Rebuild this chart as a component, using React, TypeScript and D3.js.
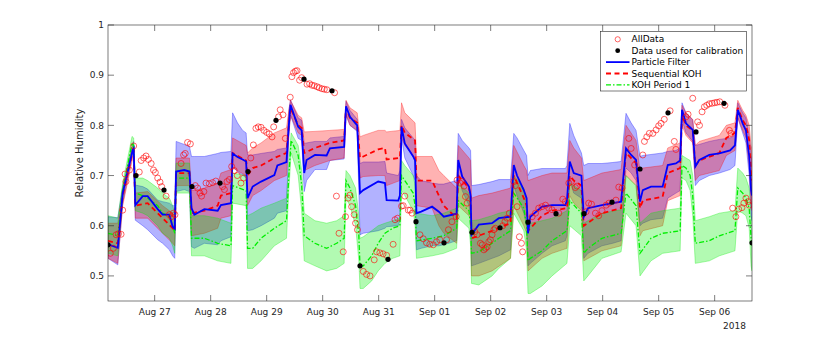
import React from "react";
import * as d3 from "d3";

// time is in hours since 2018-08-26 00:00
const startHour = 4;
const endHour = 280;

// [hour, mean, lower, upper]
const particleFilter = [
  [4, .563, .535, .618], [8.2, .556, .522, .616], [10.3, .665, .645, .678], [14.6, .751, .744, .764],
  [15.0, .754, .745, .768], [15.7, .641, .611, .681], [18.9, .659, .600, .678], [21.0, .659, .592, .673],
  [25.3, .633, .572, .651], [27.4, .622, .565, .648], [30.3, .622, .552, .645], [31.7, .598, .540, .640],
  [32.6, .594, .535, .640], [33.2, .708, .668, .768], [36.7, .711, .672, .762], [38.9, .708, .668, .758],
  [39.8, .635, .558, .738], [41.0, .622, .555, .738], [45.3, .633, .565, .738], [51.0, .630, .562, .744],
  [52.4, .641, .570, .746], [56.7, .645, .578, .748], [57.4, .744, .718, .825], [59.5, .737, .708, .805],
  [61.7, .732, .701, .790], [63.2, .728, .695, .785], [63.8, .655, .590, .741], [66.0, .678, .592, .741],
  [69.6, .688, .600, .744], [75.3, .701, .615, .748], [76.6, .720, .625, .752], [80.5, .727, .630, .755],
  [81.5, .800, .780, .830], [82.2, .841, .821, .851], [85.5, .797, .774, .815], [87.0, .790, .770, .810],
  [88.1, .705, .668, .764], [89.1, .731, .690, .765], [92.7, .741, .712, .768], [97.7, .740, .712, .768],
  [99.1, .754, .730, .775], [105.2, .757, .733, .778], [106.0, .838, .822, .848], [107.7, .817, .800, .830],
  [110.8, .800, .788, .812], [112.0, .665, .582, .724], [113.4, .671, .585, .727], [119.8, .688, .590, .727],
  [122.7, .685, .595, .728], [123.4, .651, .598, .705], [128.4, .650, .600, .700], [129.1, .660, .610, .710],
  [129.8, .797, .775, .812], [131.2, .764, .735, .795], [134.8, .738, .700, .775], [135.6, .730, .690, .770],
  [136.2, .625, .552, .700], [138.2, .628, .555, .690], [142.9, .638, .560, .685], [145.8, .628, .560, .683],
  [147.9, .618, .562, .683], [153.4, .624, .570, .690], [154.1, .731, .700, .784], [155.8, .698, .670, .770],
  [158.7, .678, .640, .755], [159.4, .660, .620, .750], [159.8, .582, .520, .680], [162.9, .602, .525, .682],
  [168.6, .605, .535, .688], [171.5, .615, .540, .692], [176.5, .618, .552, .692], [177.9, .721, .680, .784],
  [179.3, .700, .660, .775], [182.2, .671, .625, .750], [183.4, .655, .600, .740], [184.0, .585, .520, .700],
  [185.0, .618, .525, .710], [190.0, .638, .545, .714], [194.3, .641, .560, .714], [200.0, .641, .570, .714],
  [200.7, .650, .580, .720], [201.9, .728, .690, .804], [203.6, .705, .665, .780], [206.9, .700, .655, .745],
  [207.9, .618, .535, .720], [209.7, .635, .545, .724], [215.7, .641, .560, .724], [220.3, .645, .565, .726],
  [223.9, .648, .570, .728], [226.0, .754, .715, .824], [228.2, .741, .705, .805], [230.3, .731, .690, .790],
  [232.0, .648, .600, .738], [233.2, .671, .605, .740], [236.7, .678, .612, .742], [241.7, .678, .615, .745],
  [243.9, .721, .655, .748], [247.4, .724, .665, .750], [249.2, .730, .670, .755], [250.0, .831, .810, .845],
  [251.7, .804, .785, .825], [254.6, .791, .768, .811], [255.7, .718, .680, .760], [257.4, .731, .690, .762],
  [261.7, .741, .700, .768], [266.0, .744, .705, .772], [270.6, .750, .712, .775], [272.7, .760, .720, .780],
  [273.9, .831, .815, .845], [276.0, .804, .785, .825], [277.4, .790, .765, .815], [278.8, .738, .700, .780],
  [279.6, .671, .620, .740], [280, .660, .610, .730],
];

const sequentialKOH = [
  [4, .570, .535, .605], [8.2, .565, .525, .605], [10.3, .660, .640, .675], [14.6, .748, .735, .760],
  [15.0, .750, .738, .762], [15.7, .640, .615, .665], [21.0, .645, .615, .668], [27.4, .615, .585, .640],
  [31.7, .595, .565, .625], [32.6, .590, .560, .620], [33.2, .705, .680, .735], [38.9, .705, .680, .735],
  [39.8, .625, .580, .670], [45.3, .630, .585, .675], [51.0, .640, .595, .685], [52.4, .660, .615, .705],
  [56.7, .665, .620, .712], [57.4, .745, .715, .775], [63.2, .730, .700, .760], [63.8, .700, .640, .745],
  [66.0, .715, .660, .755], [69.6, .720, .670, .765], [75.3, .735, .690, .785], [80.5, .745, .700, .795],
  [81.5, .800, .780, .830], [82.2, .835, .820, .850], [85.5, .800, .785, .820], [87.0, .795, .780, .815],
  [88.1, .745, .710, .787], [92.7, .755, .720, .788], [99.1, .765, .730, .790], [105.2, .770, .735, .792],
  [106.0, .835, .820, .850], [107.7, .815, .800, .835], [110.8, .805, .790, .825], [112.0, .735, .695, .777],
  [113.4, .738, .698, .780], [119.8, .752, .700, .790], [122.7, .755, .700, .790], [123.4, .732, .680, .787],
  [129.1, .735, .690, .790], [129.8, .800, .775, .845], [131.2, .785, .760, .825], [135.6, .770, .735, .805],
  [136.2, .690, .640, .738], [142.9, .690, .635, .738], [145.8, .660, .600, .710], [147.9, .640, .585, .700],
  [153.4, .615, .565, .675], [154.1, .700, .640, .760], [158.7, .675, .620, .735], [159.4, .660, .610, .730],
  [159.8, .575, .500, .655], [162.9, .580, .500, .660], [168.6, .590, .510, .665], [176.5, .605, .535, .675],
  [177.9, .700, .640, .760], [182.2, .655, .600, .720], [183.4, .640, .585, .710], [184.0, .590, .510, .690],
  [190.0, .620, .535, .700], [194.3, .630, .545, .705], [200.7, .635, .555, .705], [201.9, .700, .660, .770],
  [203.6, .690, .645, .755], [206.9, .680, .630, .735], [207.9, .600, .530, .690], [215.7, .625, .550, .705],
  [223.9, .635, .560, .712], [226.0, .745, .700, .800], [230.3, .725, .680, .770], [232.0, .635, .580, .710],
  [233.2, .650, .590, .715], [241.7, .658, .600, .720], [243.9, .705, .650, .755], [249.2, .715, .660, .765],
  [250.0, .820, .800, .840], [251.7, .800, .780, .825], [254.6, .790, .765, .812], [255.7, .720, .690, .760],
  [257.4, .730, .700, .768], [266.0, .745, .710, .780], [269.0, .775, .740, .800], [272.7, .785, .750, .805],
  [273.9, .835, .815, .850], [276.0, .810, .790, .830], [277.4, .800, .775, .820], [278.8, .770, .720, .800],
  [279.6, .700, .640, .760], [280, .690, .630, .750],
];

const kohPeriod1 = [
  [4, .585, .545, .620], [8.2, .580, .540, .615], [10.3, .670, .655, .685], [14.3, .765, .750, .778],
  [15.0, .760, .745, .775], [15.7, .665, .630, .695], [18.9, .660, .625, .695], [21.0, .655, .620, .690],
  [25.3, .640, .600, .675], [27.4, .625, .585, .665], [30.3, .618, .575, .655], [31.7, .600, .560, .640],
  [32.6, .585, .545, .625], [33.2, .695, .665, .725], [38.9, .695, .665, .725], [39.8, .575, .540, .620],
  [45.3, .575, .540, .620], [51.0, .565, .530, .615], [56.7, .560, .525, .605], [57.4, .680, .645, .705],
  [63.2, .670, .640, .700], [63.8, .555, .515, .620], [66.0, .555, .515, .625], [69.6, .575, .530, .635],
  [75.3, .595, .560, .645], [80.5, .610, .575, .655], [81.5, .700, .670, .730], [82.5, .770, .745, .785],
  [85.5, .740, .700, .760], [87.0, .680, .630, .710], [88.1, .580, .530, .625], [92.7, .565, .520, .610],
  [97.7, .555, .510, .605], [102.0, .565, .515, .610], [105.2, .575, .525, .620], [106.0, .690, .655, .710],
  [107.7, .675, .640, .700], [110.1, .640, .600, .675], [111.5, .580, .530, .620], [112.0, .520, .475, .575],
  [113.4, .520, .475, .578], [117.0, .540, .490, .590], [119.8, .565, .510, .600], [122.7, .585, .525, .605],
  [126.0, .595, .535, .610], [129.1, .600, .540, .615], [129.8, .700, .670, .730], [131.2, .690, .660, .720],
  [134.8, .665, .630, .700], [135.6, .640, .600, .680], [136.2, .570, .535, .625], [142.9, .575, .540, .620],
  [147.9, .580, .545, .625], [153.4, .595, .555, .635], [154.1, .650, .615, .685], [158.7, .630, .595, .665],
  [159.4, .600, .560, .640], [159.8, .545, .485, .610], [162.9, .548, .482, .612], [168.6, .565, .500, .620],
  [171.5, .575, .515, .625], [176.5, .590, .535, .630], [177.9, .665, .625, .700], [182.2, .635, .590, .675],
  [183.4, .600, .550, .645], [184.0, .530, .465, .600], [185.0, .535, .465, .605], [190.0, .550, .480, .610],
  [194.3, .570, .500, .615], [200.7, .590, .525, .630], [201.9, .650, .600, .685], [206.9, .625, .580, .670],
  [207.9, .545, .490, .605], [209.7, .555, .500, .610], [215.7, .575, .535, .625], [223.9, .585, .548, .632],
  [226.0, .665, .625, .700], [230.3, .640, .600, .680], [232.0, .545, .500, .605], [236.7, .575, .530, .625],
  [241.7, .585, .545, .630], [249.2, .590, .550, .635], [250.0, .720, .695, .740], [251.7, .715, .690, .735],
  [253.5, .700, .670, .730], [254.6, .660, .620, .700], [255.7, .565, .525, .610], [261.7, .570, .530, .618],
  [266.0, .580, .540, .625], [272.7, .590, .550, .630], [273.9, .675, .630, .715], [276.0, .665, .625, .705],
  [277.4, .655, .620, .695], [278.8, .635, .595, .675], [279.6, .575, .520, .620], [280, .560, .510, .610],
];

// [hour, relative humidity]
const allData = [
  [5.0, .545], [6.3, .555], [7.5, .582], [8.5, .584], [9.6, .583], [10.3, .631], [11.3, .703], [11.7, .688],
  [13.2, .711], [15.0, .759], [17.4, .707], [18.2, .730], [19.3, .735], [20.3, .739], [21.3, .732], [22.5, .724],
  [23.5, .711], [24.3, .706], [25.3, .695], [26.3, .687], [27.0, .678], [28.9, .659], [30.3, .622], [31.2, .618],
  [32.0, .625], [32.7, .622], [35.3, .724], [36.4, .741], [37.1, .744], [38.1, .766], [39.3, .763], [41.4, .680],
  [42.4, .675], [43.4, .665], [44.1, .659], [45.1, .668], [46.0, .685], [47.4, .684], [48.8, .686], [50.2, .689],
  [53.1, .678], [53.9, .672], [55.0, .688], [56.0, .692], [57.0, .718], [58.1, .710], [59.4, .700], [61.0, .685],
  [62.1, .695], [65.2, .735], [66.3, .761], [67.4, .794], [68.4, .797], [69.6, .796], [70.8, .790], [72.0, .786],
  [73.1, .783], [74.3, .777], [75.0, .797], [77.1, .817], [77.8, .831], [79.0, .821], [80.0, .774], [82.1, .856],
  [82.8, .897], [83.5, .905], [84.3, .908], [85.0, .909], [86.1, .890], [87.0, .895], [89.3, .882], [90.4, .883],
  [91.4, .880], [92.4, .879], [93.6, .877], [94.5, .875], [95.7, .873], [96.7, .872], [97.8, .871], [101.1, .865],
  [101.9, .659], [103.0, .585], [104.8, .548], [105.8, .618], [106.9, .655], [107.7, .661], [108.4, .638],
  [109.5, .622], [110.1, .605], [110.9, .592], [113.4, .509], [114.8, .503], [116.3, .500], [118.1, .532],
  [119.1, .548], [120.5, .546], [121.9, .544], [123.4, .541], [126.2, .563], [127.0, .612], [128.1, .615],
  [129.8, .639], [130.5, .640], [131.2, .659], [132.7, .631], [133.5, .631], [134.3, .625], [137.7, .582],
  [139.1, .574], [140.5, .566], [141.9, .563], [143.4, .562], [144.8, .568], [146.2, .572], [149.1, .572],
  [149.9, .592], [151.4, .608], [153.2, .618], [153.6, .691], [154.9, .685], [155.8, .688], [156.6, .679],
  [157.2, .658], [157.9, .645], [161.2, .588], [162.2, .582], [163.6, .565], [164.4, .562], [165.1, .552],
  [165.8, .555], [166.5, .558], [167.2, .568], [167.9, .572], [168.6, .582], [169.4, .592], [170.0, .595],
  [173.2, .600], [174.1, .608], [175.0, .615], [176.0, .625], [177.9, .688], [178.6, .680], [179.3, .638],
  [180.3, .578], [181.2, .565], [181.7, .548], [185.8, .618], [187.2, .625], [188.6, .635], [190.0, .638],
  [191.5, .641], [192.9, .635], [194.3, .632], [197.2, .625], [198.9, .653], [200.0, .648], [201.5, .685],
  [202.6, .688], [204.3, .676], [205.0, .679], [208.9, .628], [210.0, .645], [211.2, .643], [212.9, .625],
  [214.3, .620], [215.7, .630], [217.5, .641], [218.7, .645], [221.7, .651], [222.9, .677], [224.3, .675],
  [227.2, .774], [228.2, .754], [229.7, .721], [233.2, .741], [233.9, .768], [234.9, .777], [236.0, .784],
  [237.5, .784], [238.9, .791], [240.0, .799], [241.0, .804], [242.4, .812], [244.9, .829], [246.7, .768],
  [247.4, .752], [251.7, .817], [252.6, .822], [254.6, .854], [256.7, .807], [257.5, .800], [258.6, .827],
  [259.6, .837], [260.6, .840], [261.7, .843], [262.9, .844], [264.0, .845], [265.0, .846], [266.2, .847],
  [268.4, .840], [270.3, .790], [271.0, .784], [271.7, .635], [273.1, .618], [274.3, .633], [275.7, .636],
  [276.5, .645], [277.4, .655], [278.3, .648], [278.8, .641],
];

const calibrationHours = [4, 16, 28, 40, 52, 64, 76, 88, 100, 112, 124, 136, 148, 160, 172, 184, 196, 208, 220, 232, 244, 256, 268, 280];
const calibrationValues = [.562, .700, .671, .678, .685, .708, .810, .892, .869, .520, .533, .608, .566, .587, .596, .607, .624, .624, .647, .713, .825, .787, .844, .566];

const xTickLabels = ["Aug 27", "Aug 28", "Aug 29", "Aug 30", "Aug 31", "Sep 01", "Sep 02", "Sep 03", "Sep 04", "Sep 05", "Sep 06"];
const xTickHours = xTickLabels.map((_, i) => 24 * (i + 1));
const yTicks = [0.5, 0.6, 0.7, 0.8, 0.9, 1];

const width = 831;
const height = 339;
const margin = { top: 25, right: 79, bottom: 38, left: 108 };
const axisColor = "#262626";
const font = "DejaVu Sans";

const App = () => {
  const innerWidth = width - margin.left - margin.right;
  const innerHeight = height - margin.top - margin.bottom;

  const x = d3.scaleLinear().domain([startHour, endHour]).range([0, innerWidth]);
  const y = d3.scaleLinear().domain([0.45, 1]).range([innerHeight, 0]);

  const band = d3.area<number[]>().x((d) => x(d[0])).y0((d) => y(d[2])).y1((d) => y(d[3]));
  const meanLine = d3.line<number[]>().x((d) => x(d[0])).y((d) => y(d[1]));

  const series = [
    { data: particleFilter, color: "#0000ff", dash: undefined, w: 1.8 },
    { data: sequentialKOH, color: "#ff0000", dash: "5,3.5", w: 1.8 },
    { data: kohPeriod1, color: "#00ee00", dash: "5,2,1.5,2", w: 1.3 },
  ];

  const legendItems = ["AllData", "Data used for calibration", "Particle Filter", "Sequential KOH", "KOH Period 1"];

  return (
    <svg width={width} height={height} style={{ position: "absolute", left: 0, top: 0, background: "#fff" }} fontFamily={font}>
      <defs>
        <clipPath id="plot">
          <rect x={0} y={0} width={innerWidth} height={innerHeight} />
        </clipPath>
      </defs>
      <g transform={`translate(${margin.left},${margin.top})`}>
        <g clipPath="url(#plot)">
          {series.map((s, i) => (
            <path key={"b" + i} d={band(s.data) || ""} fill={s.color} fillOpacity={0.3} stroke={s.color} strokeOpacity={0.55} strokeWidth={0.6} />
          ))}
          {[...series].reverse().map((s, i) => (
            <path key={"l" + i} d={meanLine(s.data) || ""} fill="none" stroke={s.color} strokeWidth={s.w} strokeDasharray={s.dash} />
          ))}
          {allData.map((d, i) => (
            <circle key={"a" + i} cx={x(d[0])} cy={y(d[1])} r={3} fill="none" stroke="#ff0000" strokeOpacity={0.8} strokeWidth={0.75} />
          ))}
          {calibrationHours.map((h, i) => (
            <circle key={"c" + i} cx={x(h)} cy={y(calibrationValues[i])} r={2.6} fill="#000" />
          ))}
        </g>

        {/* box */}
        <rect x={0} y={0} width={innerWidth} height={innerHeight} fill="none" stroke={axisColor} strokeWidth={0.6} />
        {xTickHours.map((h, i) => (
          <g key={"xt" + i} transform={`translate(${x(h)},0)`}>
            <line y1={innerHeight} y2={innerHeight - 6} stroke={axisColor} strokeWidth={0.6} />
            <line y1={0} y2={6} stroke={axisColor} strokeWidth={0.6} />
            <text y={innerHeight + 14} textAnchor="middle" fontSize={9} fill={axisColor}>{xTickLabels[i]}</text>
          </g>
        ))}
        <text x={innerWidth - 6} y={innerHeight + 28} textAnchor="end" fontSize={9} fill={axisColor}>2018</text>
        {yTicks.map((t) => (
          <g key={"yt" + t} transform={`translate(0,${y(t)})`}>
            <line x1={0} x2={6} stroke={axisColor} strokeWidth={0.6} />
            <line x1={innerWidth} x2={innerWidth - 6} stroke={axisColor} strokeWidth={0.6} />
            <text x={-4} dy="0.35em" textAnchor="end" fontSize={9} fill={axisColor}>{String(t)}</text>
          </g>
        ))}
        <text transform={`translate(-25,${128}) rotate(-90)`} textAnchor="middle" fontSize={10} fill={axisColor}>Relative Humidity</text>
      </g>

      {/* legend */}
      <g transform="translate(600.5,31.5)">
        <rect width={146} height={59.5} fill="#fff" stroke={axisColor} strokeWidth={0.6} />
        {legendItems.map((label, i) => {
          const cy = 7.8 + i * 11.4;
          return (
            <g key={label}>
              {i === 0 && <circle cx={17.2} cy={cy} r={2.6} fill="none" stroke="#ff0000" strokeOpacity={0.8} strokeWidth={0.75} />}
              {i === 1 && <circle cx={17.2} cy={cy} r={2.4} fill="#000" />}
              {i >= 2 && (
                <line x1={5.5} x2={29} y1={cy} y2={cy} stroke={series[i - 2].color} strokeWidth={series[i - 2].w} strokeDasharray={series[i - 2].dash} />
              )}
              <text x={31} y={cy} dy="0.35em" fontSize={9} fill="#000">{label}</text>
            </g>
          );
        })}
      </g>
    </svg>
  );
};

export default App;
